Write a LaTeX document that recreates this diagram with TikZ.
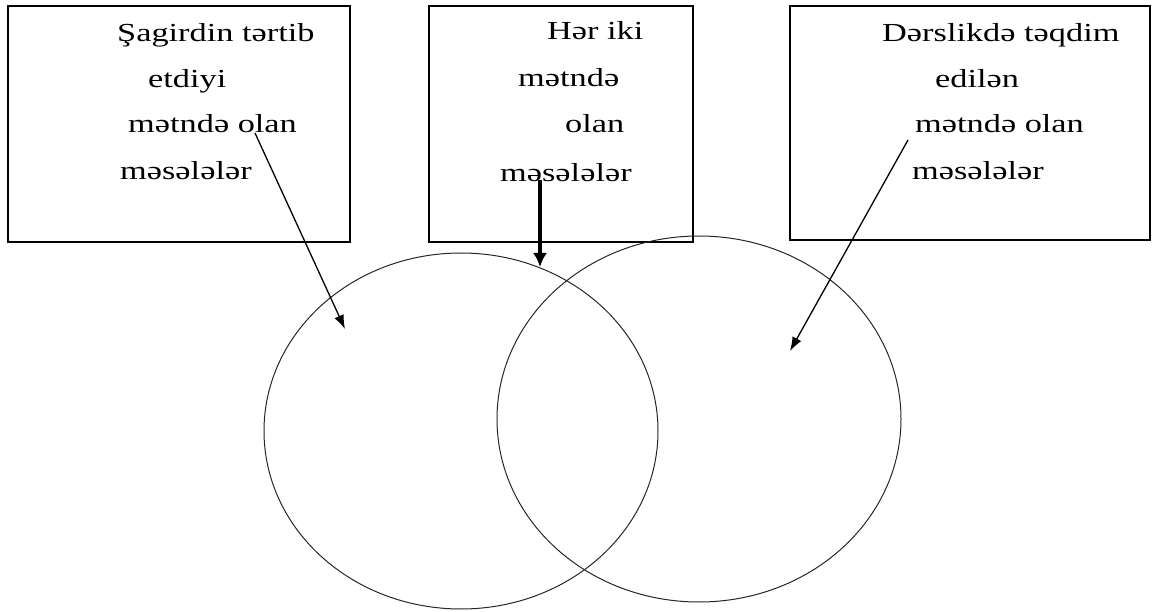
\documentclass[tikz,border=0pt]{standalone}
\usepackage{fontspec}
\newfontfamily\boxfont{Liberation Serif}[FakeStretch=1.32]
\usepackage{tikz}
\usetikzlibrary{arrows.meta,shapes.geometric}

\begin{document}
\begin{tikzpicture}[
  x=1pt, y=-1pt,
  font=\boxfont\fontsize{26}{31}\selectfont,
  box/.style={rectangle, draw=black, line width=1.8pt, inner sep=0pt},
  set/.style={ellipse, draw=black!85, line width=1.0pt, inner sep=0pt},
  txt/.style={anchor=base west, inner sep=0pt},
  ptr/.style={-{Latex[length=14pt, width=10pt]}, line width=1.3pt},
  ptrb/.style={-{Latex[length=14pt, width=14pt]}, line width=3.4pt},
]
\useasboundingbox (0,0) rectangle (1152,612);

% ---------- the three boxes
\node[box, minimum width=342pt, minimum height=236pt] (lbox) at (179,124) {};
\node[box, minimum width=264pt, minimum height=236pt] (mbox) at (561,124) {};
\node[box, minimum width=360pt, minimum height=234pt] (rbox) at (970,123) {};

% ---------- box texts, line by line
\node[txt] (l1) at (117,42)  {Şagirdin tərtib};
\node[txt] (l2) at (148,88)  {etdiyi};
\node[txt] (l3) at (128,133) {mətndə olan};
\node[txt] (l4) at (120,180) {məsələlər};

\node[txt] (m1) at (547,40)  {Hər iki};
\node[txt] (m2) at (518,87)  {mətndə};
\node[txt] (m3) at (565,133) {olan};
\node[txt] (m4) at (500,182) {məsələlər};

\node[txt] (r1) at (882,42)  {Dərslikdə təqdim};
\node[txt] (r2) at (935,88)  {edilən};
\node[txt] (r3) at (915,133) {mətndə olan};
\node[txt] (r4) at (912,180) {məsələlər};

% ---------- the two sets
\node[set, minimum width=394pt, minimum height=356pt] (lset) at (461,431) {};
\node[set, minimum width=404pt, minimum height=366pt] (rset) at (699,419) {};

% ---------- pointers from the boxes into the sets
\coordinate (lfrom) at (255,133);
\coordinate (lto)   at (345,329);
\coordinate (mfrom) at (540,180);
\coordinate (mto)   at (540,267);
\coordinate (rfrom) at (908,140);
\coordinate (rto)   at (790,351);
\draw[ptr]  (lfrom) -- (lto);
\draw[ptrb] (mfrom) -- (mto);
\draw[ptr]  (rfrom) -- (rto);
\end{tikzpicture}
\end{document}
